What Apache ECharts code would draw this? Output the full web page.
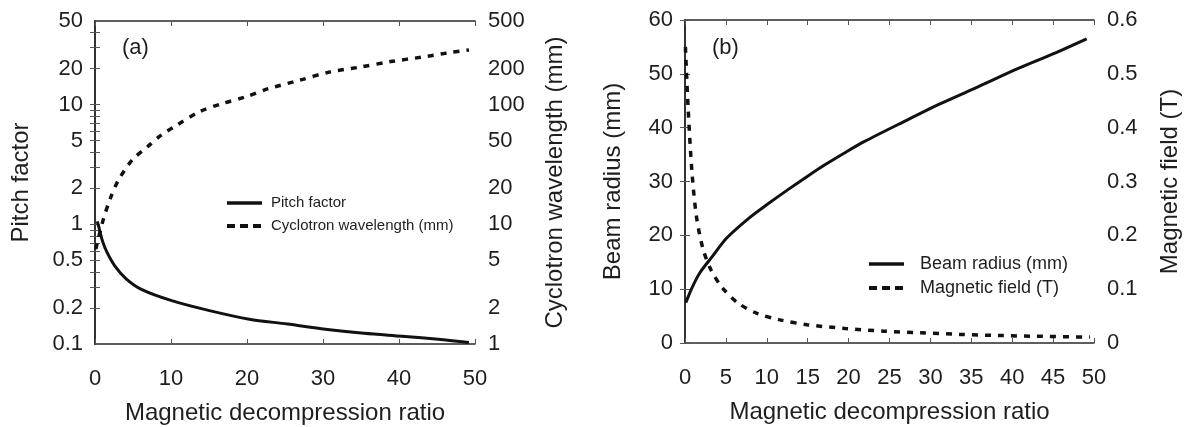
<!DOCTYPE html>
<html>
<head>
<meta charset="utf-8">
<script src="https://cdn.jsdelivr.net/npm/echarts@6/dist/echarts.min.js"></script>
<style>
html,body{margin:0;padding:0;background:#fff;}
#c{width:1196px;height:427px;}
</style>
</head>
<body>
<div id="c"></div>
<script>
// ---- Panel (a) data ----
const pitchX = [0.3, 0.5, 1.0, 1.6, 2.6, 4.1, 6.1, 10.2, 15.2, 20.3, 25.3, 30.3, 35.4, 40.4, 45.5, 49.2];
const pitchY = [1.06, 0.95, 0.72, 0.58, 0.45, 0.35, 0.286, 0.229, 0.189, 0.161, 0.147, 0.133, 0.123, 0.116, 0.109, 0.103];
const waveX = [0.1, 1.1, 2.1, 3.1, 4.9, 6.9, 8.7, 10.7, 13.7, 16.7, 19.8, 22.8, 26.8, 30.8, 34.9, 38.9, 42.9, 47.0, 49.2];
const waveY = [6.2, 11, 17, 23.5, 34.5, 44.5, 55.6, 67, 87, 102, 116, 136, 159, 187, 206, 229, 249, 274, 286];
// ---- Panel (b) data ----
const radiusX = [0.1, 0.84, 1.8, 3.2, 5.1, 7.9, 10.2, 12.5, 14.9, 17.2, 19.6, 21.9, 26.6, 31.3, 36, 40.6, 45.3, 49.1];
const radiusY = [7.5, 10.2, 13.0, 15.8, 19.5, 23.3, 25.9, 28.4, 30.9, 33.2, 35.4, 37.4, 41.0, 44.5, 47.7, 50.9, 53.9, 56.5];
const fieldX = [0.05, 0.37, 0.84, 1.4, 2.2, 3.2, 4.6, 6.5, 8.8, 11.6, 14.9, 19.6, 24.3, 28.9, 33.6, 38.3, 43, 49.5];
const fieldY = [0.55, 0.44, 0.32, 0.235, 0.175, 0.135, 0.102, 0.074, 0.055, 0.043, 0.034, 0.027, 0.022, 0.019, 0.016, 0.014, 0.0125, 0.011];
// ---- Tick labels ----
const leftLogLabels = [0.1, 0.2, 0.5, 1, 2, 5, 10, 20, 50];
const rightLogLabels = [1, 2, 5, 10, 20, 50, 100, 200, 500];
const leftLogTicks = [0.2,0.3,0.4,0.5,0.6,0.7,0.8,0.9,1,2,3,4,5,6,7,8,9,10,20,30,40];
const rightLogTicks = [2,3,4,5,6,7,8,9,10,20,30,40,50,60,70,80,90,100,200,300,400];
const seriesNames = ['Pitch factor', 'Cyclotron wavelength (mm)', 'Beam radius (mm)', 'Magnetic field (T)'];
const xTitle = 'Magnetic decompression ratio';

const zip = (a, b) => a.map((v, i) => [v, b[i]]);
const TXT = '#1e1e1e';
const LINE = {color: '#2a2a2a', width: 1.6};
const FONT = 'Liberation Sans, Arial, sans-serif';
const fmt = v => String(parseFloat(Number(v).toPrecision(3)));

function xAx(grid, pos, interval, showLabel) {
  return {
    type: 'value', gridIndex: grid, position: pos, min: 0, max: 50, interval: interval,
    axisLine: {show: true, onZero: false, lineStyle: LINE},
    axisTick: {show: true, inside: true, length: 5, lineStyle: {color: '#555', width: 1}},
    axisLabel: {show: showLabel, fontSize: 22, color: TXT, margin: 24, fontFamily: FONT},
    splitLine: {show: false},
    name: showLabel ? xTitle : '', nameLocation: 'middle', nameGap: 57,
    nameTextStyle: {fontSize: 24, color: TXT, fontFamily: FONT}
  };
}

const legendIconHide = {opacity: 0, color: 'rgba(0,0,0,0)', borderWidth: 0};
const legendDash = {type: [8, 5], width: 4, color: '#111'};

const chart = echarts.init(document.getElementById('c'), null, {renderer: 'canvas'});
chart.setOption({
  animation: false,
  backgroundColor: '#fff',
  textStyle: {fontFamily: FONT},
  title: [
    {text: '(a)', left: 122, top: 37, padding: 0, textStyle: {fontSize: 22, fontWeight: 'normal', color: TXT, fontFamily: FONT}},
    {text: '(b)', left: 712, top: 37, padding: 0, textStyle: {fontSize: 22, fontWeight: 'normal', color: TXT, fontFamily: FONT}}
  ],
  grid: [
    {left: 95, right: 721, top: 21, bottom: 83, outerBoundsMode: 'none'},
    {left: 685, right: 102, top: 20, bottom: 84, outerBoundsMode: 'none'}
  ],
  legend: [
    {data: [{name: seriesNames[0]}, {name: seriesNames[1], lineStyle: legendDash}],
     orient: 'vertical', left: 225, top: 194, padding: 0,
     itemWidth: 35, itemHeight: 14, itemGap: 5, itemStyle: legendIconHide,
     lineStyle: {width: 3.5, color: '#111'},
     textStyle: {fontSize: 15, lineHeight: 18, color: TXT, fontFamily: FONT, padding: [0, 0, 0, 4]}},
    {data: [{name: seriesNames[2]}, {name: seriesNames[3], lineStyle: legendDash}],
     orient: 'vertical', left: 867, top: 254, padding: 0,
     itemWidth: 35, itemHeight: 14, itemGap: 4, itemStyle: legendIconHide,
     lineStyle: {width: 3.5, color: '#111'},
     textStyle: {fontSize: 18, lineHeight: 20, color: TXT, fontFamily: FONT, padding: [0, 0, 0, 11]}}
  ],
  xAxis: [
    xAx(0, 'bottom', 10, true),
    xAx(0, 'top', 10, false),
    xAx(1, 'bottom', 5, true),
    xAx(1, 'top', 5, false)
  ],
  yAxis: [
    {type: 'log', gridIndex: 0, position: 'left', min: 0.1, max: 50, logBase: 10,
     axisLine: {show: true, lineStyle: LINE},
     axisTick: {show: true, inside: true, length: 5, customValues: leftLogTicks, lineStyle: {color: '#555', width: 1}},
     axisLabel: {customValues: leftLogLabels, fontSize: 22, color: TXT, margin: 12, fontFamily: FONT, formatter: fmt},
     splitLine: {show: false}, minorTick: {show: false},
     name: 'Pitch factor', nameLocation: 'middle', nameGap: 62,
     nameTextStyle: {fontSize: 24, color: TXT, fontFamily: FONT}},
    {type: 'log', gridIndex: 0, position: 'right', min: 1, max: 500, logBase: 10,
     axisLine: {show: true, lineStyle: LINE},
     axisTick: {show: true, inside: true, length: 5, customValues: rightLogTicks, lineStyle: {color: '#555', width: 1}},
     axisLabel: {customValues: rightLogLabels, fontSize: 22, color: TXT, margin: 13, fontFamily: FONT, formatter: fmt},
     splitLine: {show: false}, minorTick: {show: false},
     name: 'Cyclotron wavelength (mm)', nameLocation: 'middle', nameGap: 68,
     nameTextStyle: {fontSize: 24, color: TXT, fontFamily: FONT}},
    {type: 'value', gridIndex: 1, position: 'left', min: 0, max: 60, interval: 10,
     axisLine: {show: true, lineStyle: LINE},
     axisTick: {show: true, inside: true, length: 5, lineStyle: {color: '#555', width: 1}},
     axisLabel: {fontSize: 22, color: TXT, margin: 12, fontFamily: FONT},
     splitLine: {show: false},
     name: 'Beam radius (mm)', nameLocation: 'middle', nameGap: 60,
     nameTextStyle: {fontSize: 24, color: TXT, fontFamily: FONT}},
    {type: 'value', gridIndex: 1, position: 'right', min: 0, max: 0.6, interval: 0.1,
     axisLine: {show: true, lineStyle: LINE},
     axisTick: {show: true, inside: true, length: 5, lineStyle: {color: '#555', width: 1}},
     axisLabel: {fontSize: 22, color: TXT, margin: 13, fontFamily: FONT, formatter: fmt},
     splitLine: {show: false},
     name: 'Magnetic field (T)', nameLocation: 'middle', nameGap: 64,
     nameTextStyle: {fontSize: 24, color: TXT, fontFamily: FONT}}
  ],
  series: [
    {name: seriesNames[0], type: 'line', xAxisIndex: 0, yAxisIndex: 0, data: zip(pitchX, pitchY),
     symbol: 'none', smooth: 0.3, color: '#111', lineStyle: {color: '#111', width: 3}},
    {name: seriesNames[1], type: 'line', xAxisIndex: 0, yAxisIndex: 1, data: zip(waveX, waveY),
     symbol: 'none', smooth: 0.3, color: '#111', lineStyle: {color: '#111', width: 3.5, type: [6, 7]}},
    {name: seriesNames[2], type: 'line', xAxisIndex: 2, yAxisIndex: 2, data: zip(radiusX, radiusY),
     symbol: 'none', smooth: 0.3, color: '#111', lineStyle: {color: '#111', width: 3}},
    {name: seriesNames[3], type: 'line', xAxisIndex: 2, yAxisIndex: 3, data: zip(fieldX, fieldY),
     symbol: 'none', smooth: 0.3, color: '#111', lineStyle: {color: '#111', width: 3.5, type: [6, 7]}}
  ]
});
</script>
</body>
</html>
